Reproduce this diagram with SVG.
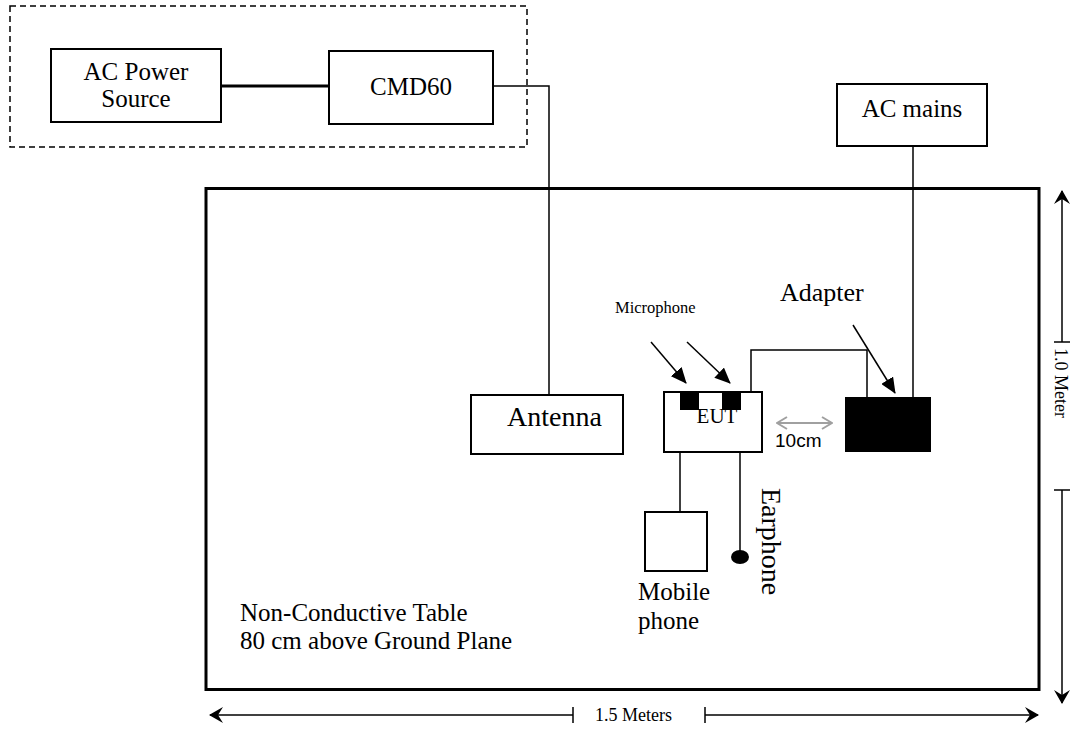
<svg xmlns="http://www.w3.org/2000/svg" width="1085" height="731" viewBox="0 0 1085 731">
<style>
.box{fill:#fff;stroke:#000;stroke-width:2}
.w{fill:none;stroke:#000;stroke-width:1.5}
.t{font-family:"Liberation Serif","Times New Roman",serif;fill:#000}
.s{font-family:"Liberation Sans",Arial,sans-serif;fill:#000}
</style>
<defs>
<marker id="tri" markerWidth="16" markerHeight="14" refX="15" refY="7" orient="auto" markerUnits="userSpaceOnUse">
<path d="M0,0 L16,7 L0,14 z" fill="#000"/>
</marker>
<marker id="dim" markerWidth="14" markerHeight="16" refX="13" refY="8" orient="auto-start-reverse" markerUnits="userSpaceOnUse">
<path d="M0,0 L14,8 L0,16 L5,8 z" fill="#000"/>
</marker>
<marker id="gray" markerWidth="12" markerHeight="14" refX="11" refY="7" orient="auto-start-reverse" markerUnits="userSpaceOnUse">
<path d="M1,1 L11,7 L1,13" fill="none" stroke="#a0a0a0" stroke-width="2"/>
</marker>
</defs>

<g id="enclosure">
<rect x="10" y="6" width="517" height="141" fill="none" stroke="#000" stroke-width="1.5" stroke-dasharray="6,4"/>
</g>
<g id="table">
<rect x="206" y="188.5" width="833" height="501" fill="none" stroke="#000" stroke-width="3"/>
<text class="t" x="240" y="621" font-size="25">Non-Conductive Table</text>
<text class="t" x="240" y="649" font-size="25">80 cm above Ground Plane</text>
</g>

<g id="connectors">
<line x1="221" y1="86" x2="329" y2="86" stroke="#000" stroke-width="3"/>
<polyline class="w" points="493,86 549,86 549,395"/>
<line class="w" x1="913" y1="146" x2="913" y2="397"/>
<polyline class="w" points="751,392 751,350 867,350 867,397"/>
<line class="w" x1="680" y1="452" x2="680" y2="512"/>
<line class="w" x1="740" y1="452" x2="740" y2="552"/>
<line class="w" x1="651" y1="342" x2="686" y2="383" marker-end="url(#tri)"/>
<line class="w" x1="687" y1="342" x2="730" y2="383" marker-end="url(#tri)"/>
<line class="w" x1="853" y1="325" x2="895" y2="393" marker-end="url(#tri)"/>
<line x1="777" y1="423" x2="832" y2="423" stroke="#a0a0a0" stroke-width="2" marker-start="url(#gray)" marker-end="url(#gray)"/>
</g>

<g id="ac-power-source">
<rect class="box" x="51" y="49" width="170" height="73"/>
<text class="t" font-size="25" text-anchor="middle"><tspan x="136" y="80">AC Power</tspan><tspan x="136" y="107">Source</tspan></text>
</g>
<g id="cmd60">
<rect class="box" x="329" y="51" width="164" height="73"/>
<text class="t" x="411" y="95" font-size="25" text-anchor="middle">CMD60</text>
</g>
<g id="ac-mains">
<rect class="box" x="837" y="84" width="150" height="62"/>
<text class="t" x="912" y="117" font-size="25" text-anchor="middle">AC mains</text>
</g>
<g id="antenna">
<rect class="box" x="471" y="395" width="152" height="59"/>
<text class="t" x="507" y="426" font-size="28">Antenna</text>
</g>
<g id="eut">
<rect class="box" x="664" y="392" width="98" height="60"/>
<text class="t" x="717" y="423" font-size="21" text-anchor="middle">EUT</text>
<rect x="680" y="391" width="19" height="19" fill="#000"/>
<rect x="722" y="391" width="19" height="19" fill="#000"/>
</g>
<g id="microphone">
<text class="t" x="615" y="313" font-size="16.5">Microphone</text>
</g>
<g id="adapter">
<rect x="845" y="397" width="86" height="55" fill="#000"/>
<text class="t" x="780" y="301" font-size="26">Adapter</text>
</g>
<g id="distance">
<text class="s" x="775" y="447" font-size="19">10cm</text>
</g>
<g id="mobile-phone">
<rect class="box" x="645" y="512" width="62" height="59"/>
<text class="t" x="638" y="600" font-size="25">Mobile</text>
<text class="t" x="638" y="629" font-size="25">phone</text>
</g>
<g id="earphone">
<ellipse cx="740" cy="557" rx="9" ry="7" fill="#000"/>
<text class="t" transform="translate(762,488) rotate(90)" font-size="28">Earphone</text>
</g>

<g id="dimensions">
<line class="w" x1="210" y1="715" x2="573" y2="715" marker-start="url(#dim)"/>
<line class="w" x1="573" y1="707" x2="573" y2="723"/>
<text class="t" x="595" y="721" font-size="18">1.5 Meters</text>
<line class="w" x1="705" y1="707" x2="705" y2="723"/>
<line class="w" x1="705" y1="715" x2="1038" y2="715" marker-end="url(#dim)"/>
<line class="w" x1="1062" y1="191" x2="1062" y2="342" marker-start="url(#dim)"/>
<line class="w" x1="1054" y1="342" x2="1070" y2="342"/>
<text class="t" transform="translate(1055,348) rotate(90)" font-size="18">1.0 Meter</text>
<line class="w" x1="1054" y1="490" x2="1070" y2="490"/>
<line class="w" x1="1062" y1="490" x2="1062" y2="703" marker-end="url(#dim)"/>
</g>
</svg>
